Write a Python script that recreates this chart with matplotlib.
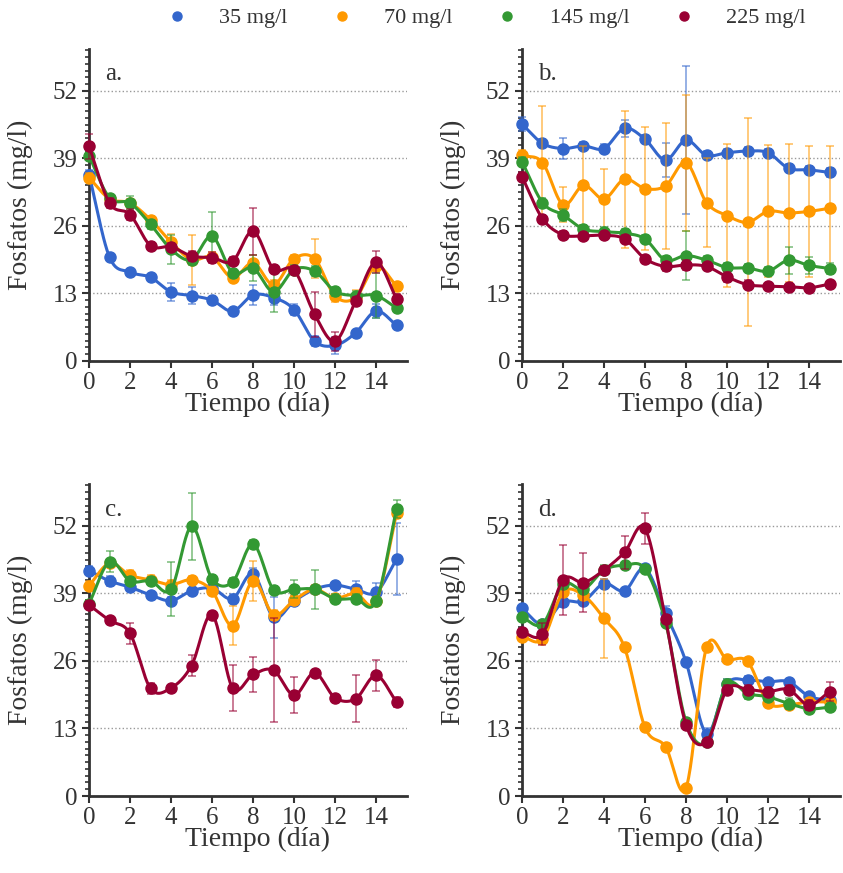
import numpy as np
import matplotlib
matplotlib.use('Agg')
import matplotlib.pyplot as plt
from matplotlib.lines import Line2D
from matplotlib.ticker import MultipleLocator

plt.rcParams['font.family'] = ['Liberation Serif', 'DejaVu Serif']
plt.rcParams['text.color'] = '#333333'

# Data: phosphate (mg/l) per day for each initial concentration
days = list(range(16))
series_labels = ['35 mg/l', '70 mg/l', '145 mg/l', '225 mg/l']
colors = ['#3366cc', '#ff9900', '#339933', '#990033']
y_ticks = [0, 13, 26, 39, 52]
x_ticks = [0, 2, 4, 6, 8, 10, 12, 14]

# panel a
a_35 = [35.9, 20.0, 17.1, 16.1, 13.3, 12.6, 11.7, 9.6, 12.7, 12.2, 9.9, 3.8, 3.0, 5.4, 9.6, 6.9]
a_70 = [35.3, 31.2, 30.4, 27.2, 22.9, 19.5, 20.0, 16.0, 18.9, 14.7, 19.7, 19.7, 12.5, 12.2, 18.3, 14.4]
a_145 = [39.5, 31.4, 30.4, 26.3, 21.5, 19.5, 24.0, 17.0, 17.9, 13.3, 17.6, 17.3, 13.4, 12.6, 12.6, 10.2]
a_225 = [41.3, 30.4, 28.2, 22.2, 22.0, 20.2, 19.9, 19.2, 25.0, 17.7, 17.5, 9.0, 3.8, 11.5, 19.0, 12.0]
a_35_err = [0.8, 0.6, 0.6, 0.5, 1.7, 1.7, 0.6, 0.5, 2.0, 1.5, 1.0, 1.0, 1.6, 0.5, 1.3, 0.5]
a_70_err = [0.8, 0.8, 0.8, 0.8, 1.5, 4.8, 1.0, 0.8, 1.5, 0.8, 0.8, 3.8, 1.2, 1.5, 1.0, 0.8]
a_145_err = [0.8, 0.6, 1.4, 0.8, 2.8, 1.0, 4.6, 0.8, 2.5, 3.9, 0.8, 1.0, 0.8, 0.8, 4.3, 0.8]
a_225_err = [2.4, 1.0, 1.1, 0.8, 0.8, 1.0, 1.0, 0.8, 4.5, 0.8, 0.8, 4.3, 1.8, 0.8, 2.1, 0.8]

# panel b
b_35 = [45.6, 41.9, 40.9, 41.4, 40.9, 44.8, 42.7, 38.7, 42.5, 39.6, 40.1, 40.4, 40.1, 37.1, 36.8, 36.3]
b_70 = [39.6, 38.2, 30.1, 33.8, 31.2, 35.0, 33.2, 33.7, 38.2, 30.5, 28.0, 26.7, 28.8, 28.5, 28.8, 29.4]
b_145 = [38.4, 30.5, 28.1, 25.4, 24.9, 24.6, 23.5, 19.4, 20.3, 19.4, 18.0, 17.9, 17.3, 19.4, 18.4, 17.8]
b_225 = [35.5, 27.4, 24.3, 24.1, 24.2, 23.5, 19.7, 18.2, 18.5, 18.2, 16.2, 14.7, 14.4, 14.3, 14.1, 14.8]
b_35_err = [1.4, 0.8, 2.0, 0.8, 0.8, 1.6, 0.8, 3.3, 14.2, 0.8, 0.8, 0.8, 0.8, 0.8, 0.8, 0.8]
b_70_err = [1.0, 10.8, 3.4, 7.6, 5.7, 13.2, 11.9, 12.2, 13.1, 8.6, 13.7, 20.0, 12.7, 13.2, 12.6, 12.0]
b_145_err = [0.8, 0.8, 1.2, 0.8, 0.8, 0.8, 0.8, 0.8, 4.8, 0.8, 0.8, 0.8, 0.8, 2.6, 1.7, 1.0]
b_225_err = [0.8, 0.8, 0.8, 0.6, 0.6, 0.8, 0.6, 0.8, 0.9, 0.6, 1.0, 0.8, 0.6, 0.6, 0.6, 0.6]

# panel c
c_35 = [43.4, 41.4, 40.2, 38.7, 37.6, 39.5, 40.0, 38.0, 42.8, 34.4, 37.5, 39.8, 40.6, 39.8, 39.2, 45.6]
c_70 = [40.5, 44.8, 42.5, 41.6, 40.7, 41.6, 39.5, 32.8, 41.4, 34.9, 37.7, 39.8, 38.1, 39.0, 37.5, 54.4]
c_145 = [37.0, 45.1, 41.4, 41.4, 39.8, 51.9, 41.8, 41.2, 48.5, 39.7, 39.8, 39.8, 38.0, 38.0, 37.5, 55.3]
c_225 = [36.8, 33.8, 31.3, 20.7, 20.8, 25.1, 34.9, 20.8, 23.4, 24.2, 19.4, 23.7, 18.9, 18.7, 23.2, 18.1]
c_35_err = [0.8, 1.0, 0.8, 0.6, 0.8, 0.6, 0.6, 0.8, 1.0, 4.0, 1.0, 0.6, 0.6, 1.5, 1.8, 7.0]
c_70_err = [0.8, 0.8, 1.0, 1.0, 0.8, 0.8, 0.8, 3.8, 3.8, 1.0, 1.0, 0.8, 0.8, 1.0, 0.8, 0.8]
c_145_err = [0.8, 2.0, 0.8, 0.8, 5.2, 6.4, 0.8, 0.8, 0.8, 0.8, 1.7, 3.8, 0.8, 0.8, 0.8, 1.7]
c_225_err = [0.8, 0.6, 2.0, 1.0, 0.6, 2.0, 0.6, 4.4, 3.3, 10.0, 3.5, 0.6, 0.6, 4.5, 3.0, 1.0]

# panel d
d_35 = [36.1, 33.1, 37.3, 37.5, 40.9, 39.5, 43.8, 35.2, 25.8, 12.0, 21.6, 22.3, 22.0, 22.0, 19.2, 18.4]
d_70 = [30.7, 30.2, 39.2, 38.6, 34.2, 28.6, 13.2, 9.5, 1.6, 28.6, 26.3, 25.9, 18.0, 17.6, 18.1, 18.1]
d_145 = [34.4, 33.1, 40.8, 39.8, 43.5, 44.4, 43.7, 33.4, 14.3, 10.4, 21.5, 19.7, 19.1, 17.8, 16.8, 17.1]
d_225 = [31.5, 31.2, 41.6, 41.1, 43.5, 46.9, 51.5, 34.1, 13.7, 10.4, 20.5, 20.5, 20.1, 20.5, 17.5, 20.1]
d_35_err = [0.6, 0.6, 1.0, 0.8, 0.8, 0.6, 0.6, 1.4, 0.6, 1.0, 1.0, 0.8, 0.6, 0.6, 0.6, 0.8]
d_70_err = [0.6, 1.0, 0.6, 0.6, 7.6, 0.6, 0.6, 0.6, 0.6, 0.6, 0.6, 0.6, 0.6, 0.6, 0.6, 0.6]
d_145_err = [0.6, 0.6, 0.6, 0.6, 1.0, 0.6, 0.6, 0.6, 0.6, 0.6, 1.0, 1.0, 0.6, 1.0, 0.6, 0.6]
d_225_err = [0.6, 2.2, 6.7, 5.6, 0.8, 3.2, 2.9, 0.8, 0.6, 0.6, 0.8, 0.8, 0.8, 0.8, 1.0, 1.9]


def smooth(x, y, steps=24):
    # Catmull-Rom style cubic Hermite curve through the points
    x = np.asarray(x, float)
    y = np.asarray(y, float)
    m = np.gradient(y, x)
    xs, ys = [], []
    t = np.linspace(0, 1, steps, endpoint=False)
    h00 = 2 * t**3 - 3 * t**2 + 1
    h10 = t**3 - 2 * t**2 + t
    h01 = -2 * t**3 + 3 * t**2
    h11 = t**3 - t**2
    for i in range(len(x) - 1):
        h = x[i + 1] - x[i]
        xs.append(x[i] + t * h)
        ys.append(h00 * y[i] + h10 * h * m[i] + h01 * y[i + 1] + h11 * h * m[i + 1])
    xs.append([x[-1]])
    ys.append([y[-1]])
    return np.concatenate(xs), np.concatenate(ys)


fig = plt.figure(figsize=(8.43, 8.73), dpi=100)
w, h = 0.377, 0.357
positions = [[0.1056, 0.5865, w, h], [0.6192, 0.5865, w, h],
             [0.1056, 0.0882, w, h], [0.6192, 0.0882, w, h]]
panels = [
    ('a.', [a_35, a_70, a_145, a_225], [a_35_err, a_70_err, a_145_err, a_225_err]),
    ('b.', [b_35, b_70, b_145, b_225], [b_35_err, b_70_err, b_145_err, b_225_err]),
    ('c.', [c_35, c_70, c_145, c_225], [c_35_err, c_70_err, c_145_err, c_225_err]),
    ('d.', [d_35, d_70, d_145, d_225], [d_35_err, d_70_err, d_145_err, d_225_err]),
]

for pos, (tag, values, errors) in zip(positions, panels):
    ax = fig.add_axes(pos)
    for k, (vals, errs, color) in enumerate(zip(values, errors, colors)):
        sx, sy = smooth(days, vals)
        ax.plot(sx, sy, color=color, lw=2.2, clip_on=False, zorder=3 + k)
        eb = ax.errorbar(days, vals, yerr=errs, fmt='none', ecolor=color, alpha=0.6,
                         elinewidth=1.2, capsize=3, capthick=1.2, zorder=3 + k)
        for art in list(eb[1]) + list(eb[2]):
            art.set_clip_on(False)
        ax.plot(days, vals, 'o', color=color, ms=8, clip_on=False, zorder=3 + k)

    ax.set_xlim(0, 15.5)
    ax.set_ylim(0, 60)
    ax.set_xticks(x_ticks)
    ax.set_yticks(y_ticks)
    ax.yaxis.set_minor_locator(MultipleLocator(1.3))
    ax.yaxis.grid(True, linestyle=':', color='#999999', lw=1)
    ax.set_axisbelow(True)
    for side in ['top', 'right']:
        ax.spines[side].set_visible(False)
    for side in ['left', 'bottom']:
        ax.spines[side].set_linewidth(2)
        ax.spines[side].set_color('#333333')
    ax.tick_params(which='major', direction='out', length=5, width=1.5, color='#333333',
                   labelsize=18, labelcolor='#333333', pad=3)
    ax.tick_params(axis='y', which='minor', direction='out', length=3, width=1.2, color='#333333')
    ax.set_xlabel('Tiempo (día)', fontsize=20, color='#333333')
    ax.set_ylabel('Fosfatos (mg/l)', fontsize=20, color='#333333')
    ax.yaxis.set_label_coords(-0.175, 0.5)
    ax.xaxis.set_label_coords(0.53, -0.1)
    ax.text(0.05, 0.9, tag, transform=ax.transAxes, fontsize=18, color='#333333')

handles = [Line2D([], [], marker='o', ls='none', color=c, ms=6.5) for c in colors]
fig.legend(handles, series_labels, loc='center left', bbox_to_anchor=(166 / 843, 1 - 18 / 873),
           ncol=4, frameon=False, handlelength=1, handletextpad=1.4, columnspacing=1.95,
           fontsize=16, borderpad=0, borderaxespad=0)

fig.savefig('out.png', dpi=100)
